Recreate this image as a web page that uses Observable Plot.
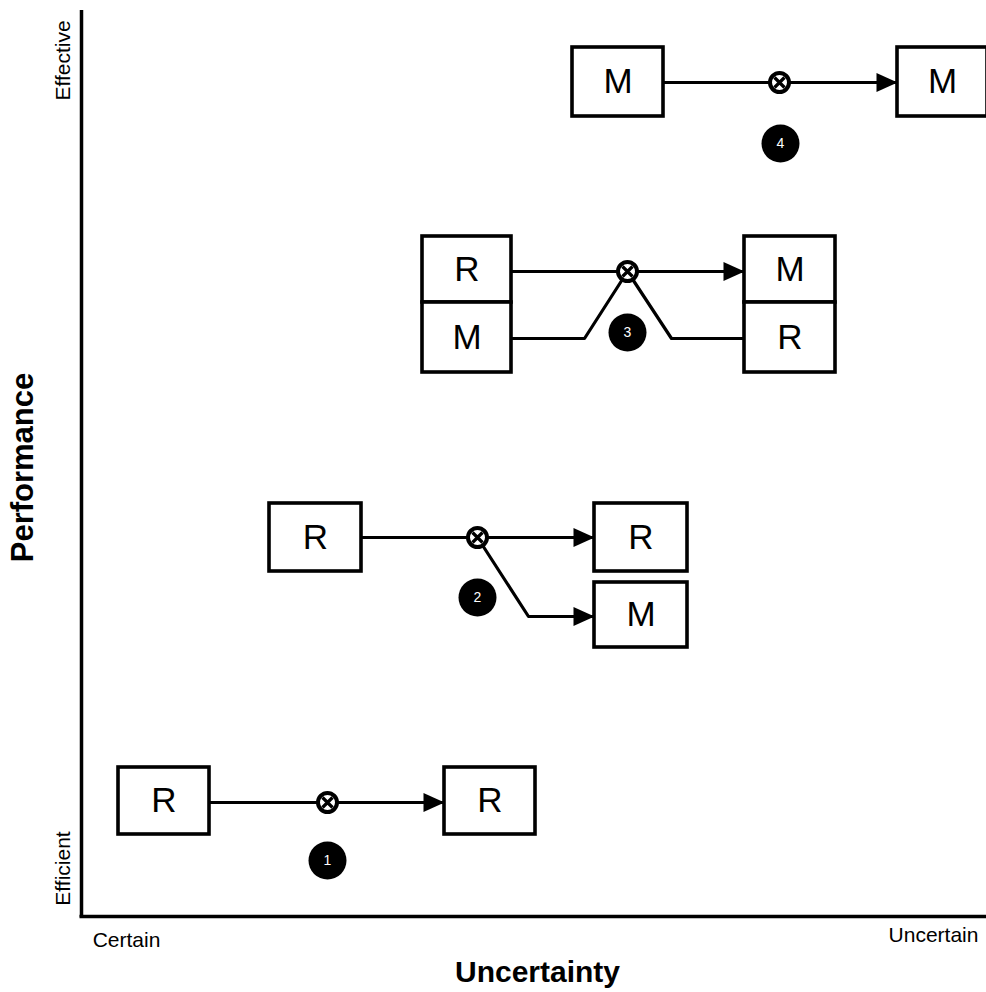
<!DOCTYPE html>
<html>
<head>
<meta charset="utf-8">
<script src="https://cdn.jsdelivr.net/npm/d3@7"></script>
<script src="https://cdn.jsdelivr.net/npm/@observablehq/plot@0.6"></script>
<style>
  html, body { margin: 0; padding: 0; background: #fff; }
  #chart svg { display: block; }
</style>
</head>
<body>
<div id="chart"></div>
<script>
// Coordinates: uncertainty (x) and performance (y) in diagram units from the axes' origin
const boxLabels = ["R", "R", "R", "R", "M", "R", "M", "M", "R", "M", "M"];
const boxX1 = [37, 363, 188, 513, 513, 341, 341, 663, 663, 491, 816];
const boxX2 = [128, 454, 280, 606, 606, 430, 430, 754, 754, 582, 906];
const boxY1 = [82, 82, 345, 345, 269, 614, 544, 614, 544, 800, 800];
const boxY2 = [149, 149, 413, 413, 334, 680, 614, 680, 614, 869, 869];

const flowIds = ["1", "2a", "2b", "3a", "3b", "4"];
const flowPoints = [
  [[128, 114], [363, 114]],
  [[280, 379], [513, 379]],
  [[396, 379], [447, 300], [513, 300]],
  [[430, 645], [663, 645]],
  [[430, 578], [503, 578], [546, 645], [590, 578], [663, 578]],
  [[582, 834], [816, 834]]
];

const arrowTips = [[363, 114], [513, 379], [513, 300], [663, 645], [816, 834]];
const junctions = [[246, 114], [396, 379], [546, 645], [698, 834]];

const badgeNumbers = ["1", "2", "3", "4"];
const badgeX = [246, 396, 546, 699];
const badgeY = [56, 319, 584, 773];

const xTickLabels = ["Certain", "Uncertain"];
const xTickPos = [45, 852];
const xTickY = [-24, -19];
const yTickLabels = ["Efficient", "Effective"];
const yTickPos = [48, 856];
const xTitle = "Uncertainty";
const yTitle = "Performance";

const boxes = boxLabels.map((label, i) => ({label, x1: boxX1[i], x2: boxX2[i], y1: boxY1[i], y2: boxY2[i]}));
const flows = flowIds.flatMap((id, i) => flowPoints[i].map(([x, y]) => ({id, x, y})));
const badges = badgeNumbers.map((n, i) => ({n, x: badgeX[i], y: badgeY[i]}));

const arrowHead = {
  draw(context) {
    context.moveTo(0, 0);
    context.lineTo(-21, -9.5);
    context.lineTo(-21, 9.5);
    context.closePath();
  }
};
const crossSym = {
  draw(context) {
    context.moveTo(-5, -5); context.lineTo(5, 5);
    context.moveTo(-5, 5); context.lineTo(5, -5);
  }
};

const font = "Liberation Sans, Arial, Helvetica, sans-serif";

const chart = Plot.plot({
  width: 986,
  height: 992,
  marginLeft: 81,
  marginRight: 0,
  marginTop: 10,
  marginBottom: 76,
  x: {domain: [0, 905], axis: null},
  y: {domain: [0, 906], axis: null},
  style: {fontFamily: font, background: "white", overflow: "visible"},
  marks: [
    Plot.ruleX([0], {y1: -1, y2: 906, stroke: "black", strokeWidth: 3.5}),
    Plot.ruleY([0], {x1: -1.5, x2: 905, stroke: "black", strokeWidth: 3.5}),
    Plot.line(flows, {x: "x", y: "y", z: "id", stroke: "black", strokeWidth: 3.2, curve: "linear"}),
    Plot.dot(arrowTips, {x: d => d[0], y: d => d[1], symbol: arrowHead, fill: "black", stroke: "none", r: 10}),
    Plot.rect(boxes, {x1: "x1", x2: "x2", y1: "y1", y2: "y2", fill: "white", stroke: "black", strokeWidth: 3.6}),
    Plot.text(boxes, {x: d => (d.x1 + d.x2) / 2, y: d => (d.y1 + d.y2) / 2, text: "label", fontSize: 35, fill: "black", fontFamily: font}),
    Plot.dot(junctions, {x: d => d[0], y: d => d[1], r: 9.5, fill: "white", stroke: "black", strokeWidth: 4}),
    Plot.dot(junctions, {x: d => d[0], y: d => d[1], symbol: crossSym, fill: "none", stroke: "black", strokeWidth: 3.2, r: 6}),
    Plot.dot(badges, {x: "x", y: "y", r: 19, fill: "black", stroke: "none"}),
    Plot.text(badges, {x: "x", y: "y", text: "n", fill: "white", fontSize: 14, fontFamily: font}),
    Plot.text(xTickLabels, {x: (d, i) => xTickPos[i], y: (d, i) => xTickY[i], text: d => d, fontSize: 21, fill: "black", fontFamily: font}),
    Plot.text(yTickLabels, {x: -18, y: (d, i) => yTickPos[i], text: d => d, rotate: -90, fontSize: 21, fill: "black", fontFamily: font}),
    Plot.text([xTitle], {x: 456, y: -56, text: d => d, fontSize: 30, fontWeight: "bold", fill: "black", fontFamily: font}),
    Plot.text([yTitle], {x: -58, y: 449, text: d => d, rotate: -90, fontSize: 31, fontWeight: "bold", fill: "black", fontFamily: font})
  ]
});
document.getElementById("chart").appendChild(chart);
</script>
</body>
</html>
